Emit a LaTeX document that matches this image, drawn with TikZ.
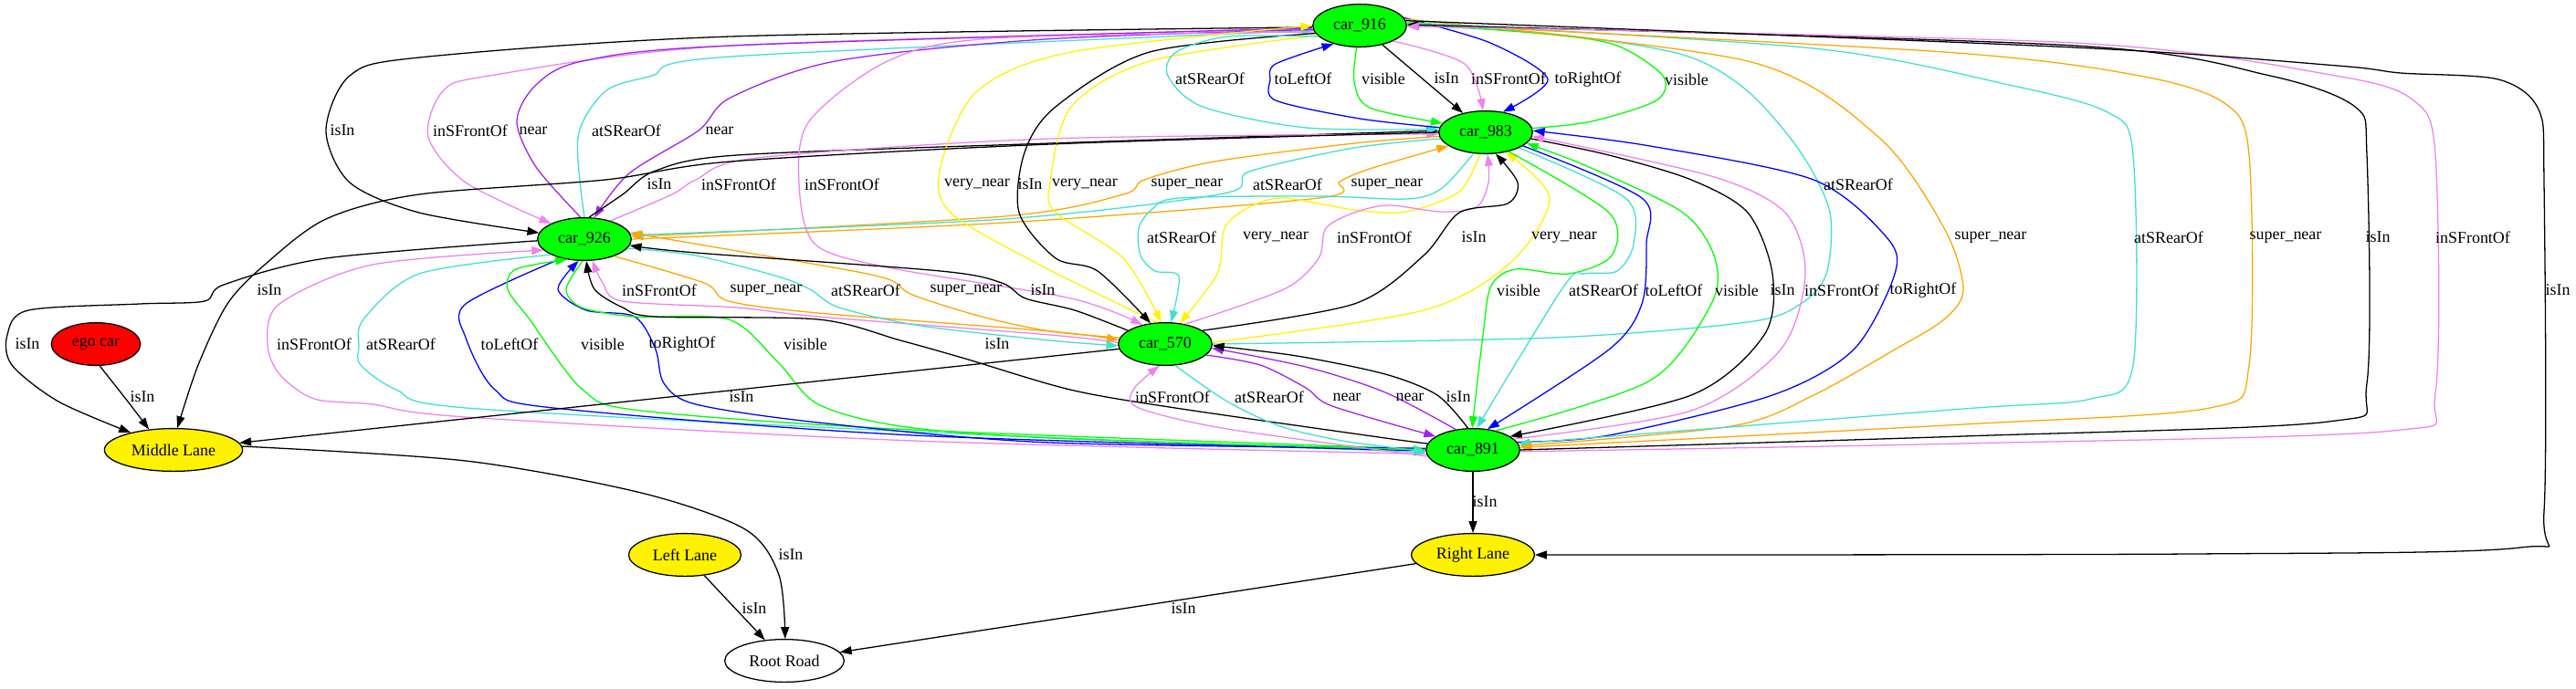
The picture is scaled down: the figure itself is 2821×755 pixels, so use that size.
\documentclass[tikz,border=0pt]{standalone}
\usepackage{fontspec}
\setmainfont{Liberation Serif}
\usetikzlibrary{shapes.geometric}
\usetikzlibrary{arrows.meta}

\definecolor{gvPurple}{HTML}{A020F0}
\definecolor{gvViolet}{HTML}{EE82EE}
\definecolor{gvTurq}{HTML}{40E0D0}
\definecolor{gvOrange}{HTML}{FFA500}

\tikzset{
    carnode/.style  = {ellipse, draw, line width = 1pt, fill = green, minimum width = 80pt, minimum height = 36.5pt, inner sep = 0pt},
    lanenode/.style = {ellipse, draw, line width = 1pt, fill = yellow, minimum height = 36.5pt, inner sep = 0pt},
    rel/.style      = {line width = 1pt, -{Triangle[length = 10pt, width = 7pt]}},
    lbl/.style      = {inner sep = 0pt},
}

\begin{document}
\begin{tikzpicture}[x = 0.78pt, y = -0.78pt, font = \fontsize{14}{16}\selectfont]

    \useasboundingbox (0,0) rectangle (2821,755);

    \node[carnode] (car916) at (1489,28)  {car\_916};
    \node[carnode] (car983) at (1627,145) {car\_983};
    \node[carnode] (car926) at (640,262)  {car\_926};
    \node[carnode] (car570) at (1276,377) {car\_570};
    \node[carnode] (car891) at (1613,493) {car\_891};

    \node[lanenode, fill = red, minimum width = 76pt] (egoCar) at (105,377) {ego car};
    \node[lanenode, minimum width = 118pt] (midLane)   at (190,493)  {Middle Lane};
    \node[lanenode, minimum width = 96pt]  (leftLane)  at (750,608)  {Left Lane};
    \node[lanenode, minimum width = 105pt] (rightLane) at (1613,608) {Right Lane};
    \node[lanenode, fill = white, minimum width = 102pt] (rootRoad) at (859,724) {Root Road};

    \draw[rel] plot[smooth] coordinates {(car916.182) (800,40) (459,63) (383,83) (357,143) (383,200) (459,233) (car926.172)};
    \draw[rel, gvViolet] plot[smooth] coordinates {(car916.184) (800,50) (536,83) (485,100) (469,150) (510,200) (car926.155)};
    \draw[rel, gvPurple] plot[smooth] coordinates {(car926.100) (587,183) (566,133) (587,93) (638,67) (800,50) (car916.183)};
    \draw[rel, gvTurq] plot[smooth] coordinates {(car926.90) (633,150) (663,100) (714,83) (800,62) (car916.186)};
    \draw[rel, gvPurple] plot[smooth] coordinates {(car916.185) (1144,43) (915,67) (800,107) (765,143) (689,190) (car926.65)};

    \draw[rel] plot[smooth] coordinates {(car926.78) (682,213) (718,187) (807,170) (1150,157) (car983.178)};
    \draw[rel, gvViolet] plot[smooth] coordinates {(car926.35) (736,213) (762,197) (829,173) (1150,152) (car983.182)};
    \draw[rel, gvOrange] plot[smooth] coordinates {(car983.185) (1483,157) (1330,177) (1253,197) (1230,213) (1100,237) (car926.3)};
    \draw[rel, gvTurq] plot[smooth] coordinates {(car983.188) (1483,162) (1368,188) (1340,212) (1100,240) (car926.5)};
    \draw[rel, gvOrange] plot[smooth] coordinates {(car926.0) (1100,244) (1444,217) (1467,199) (1500,185) (car983.200)};

    \draw[rel, gvViolet] plot[smooth] coordinates {(car916.188) (1087,42) (972,67) (886,133) (875,200) (892,267) (972,293) (1173,327) (car570.140)};
    \draw[rel, yellow] plot[smooth] coordinates {(car570.110) (1144,293) (1041,233) (1030,183) (1070,100) (1173,57) (car916.180)};
    \draw[rel] plot[smooth] coordinates {(car916.190) (1259,57) (1156,117) (1122,167) (1116,233) (1156,283) (1202,297) (car570.125)};
    \draw[rel, yellow] plot[smooth] coordinates {(car916.193) (1259,67) (1173,117) (1150,200) (1156,233) (1230,283) (car570.100)};
    \draw[rel, gvTurq] plot[smooth] coordinates {(car570.0) (1700,370) (1914,353) (1972,333) (2000,300) (2004,233) (1972,167) (1914,100) (1843,60) (1700,37) (car916.0)};

    \draw[rel, gvTurq] plot[smooth] coordinates {(car983.240) (1578,207) (1540,218) (1444,215) (1291,217) (1261,230) (1247,250) (1249,280) (1265,297) (1291,303) (car570.75)};
    \draw[rel, yellow] plot[smooth] coordinates {(car983.255) (1598,210) (1540,232) (1483,230) (1406,217) (1368,227) (1341,250) (1333,300) (car570.55)};
    \draw[rel, gvViolet] plot[smooth] coordinates {(car570.45) (1406,317) (1444,283) (1452,250) (1483,233) (1521,225) (1578,232) (1617,227) (1630,200) (car983.275)};
    \draw[rel] plot[smooth] coordinates {(car570.20) (1483,333) (1559,280) (1598,233) (1651,223) (1662,200) (car983.295)};
    \draw[rel, yellow] plot[smooth] coordinates {(car570.2) (1559,340) (1655,287) (1697,217) (car983.315)};

    \draw[rel, gvViolet] plot[smooth] coordinates {(car570.178) (1150,367) (896,347) (807,337) (682,330) (660,310) (car926.290)};
    \draw[rel, gvOrange] plot[smooth] coordinates {(car926.330) (771,310) (798,330) (896,343) (1150,363) (car570.175)};
    \draw[rel, gvTurq] plot[smooth] coordinates {(car926.348) (762,280) (852,303) (887,317) (919,337) (1008,357) (1150,373) (car570.182)};
    \draw[rel, gvOrange] plot[smooth] coordinates {(car570.172) (1150,363) (1075,347) (999,323) (963,303) (807,275) (car926.8)};
    \draw[rel] plot[smooth] coordinates {(car570.160) (1177,340) (1123,327) (1097,310) (1030,297) (762,277) (car926.352)};

    \draw[rel, gvTurq] plot[smooth] coordinates {(car916.195) (1345,40) (1288,57) (1279,83) (1317,117) (1431,140) (car983.176)};
    \draw[rel, blue] plot[smooth] coordinates {(car983.174) (1489,130) (1397,110) (1391,87) (1397,70) (car916.215)};
    \draw[rel, green] plot[smooth] coordinates {(car916.262) (1483,90) (1500,118) (car983.168)};
    \draw[rel] (car916) -- (car983);
    \draw[rel, gvViolet] plot[smooth] coordinates {(car916.335) (1604,70) (car983.97)};
    \draw[rel, blue] plot[smooth] coordinates {(car916.10) (1632,47) (1695,87) (car983.50)};
    \draw[rel, green] plot[smooth] coordinates {(car983.5) (1743,133) (1814,110) (1821,83) (1771,50) (1700,38) (car916.3)};

    \draw[rel, green] plot[smooth] coordinates {(car983.320) (1762,233) (1765,280) (1718,300) (1660,295) (1633,313) (1624,367) (car891.92)};
    \draw[rel, gvTurq] plot[smooth] coordinates {(car983.335) (1780,217) (1789,267) (1771,297) (1736,300) (1713,313) (car891.80)};
    \draw[rel, blue] plot[smooth] coordinates {(car983.340) (1798,217) (1803,267) (1798,333) (1762,383) (car891.55)};
    \draw[rel, green] plot[smooth] coordinates {(car891.40) (1807,417) (1874,333) (1878,283) (1843,233) (1740,183) (car983.345)};
    \draw[rel] plot[smooth] coordinates {(car983.352) (1762,170) (1852,197) (1914,233) (1941,300) (1932,367) (1852,433) (car891.20)};
    \draw[rel, gvViolet] plot[smooth] coordinates {(car891.15) (1852,450) (1950,383) (1977,300) (1955,233) (1874,193) (car983.355)};
    \draw[rel, blue] plot[smooth] coordinates {(car891.10) (1762,477) (1941,433) (2030,383) (2075,300) (2066,260) (1986,197) (1807,160) (car983.2)};

    \draw[rel, gvOrange] plot[smooth] coordinates {(car916.8) (1914,67) (2057,150) (2129,250) (2150,317) (2129,350) (2075,383) (1986,433) (1896,467) (car891.5)};
    \draw[rel, gvTurq] plot[smooth] coordinates {(car916.4) (1986,53) (2200,93) (2308,123) (2336,170) (2336,400) (2290,437) (2150,448) (car891.8)};
    \draw[rel, gvOrange] plot[smooth] coordinates {(car916.2) (2129,57) (2343,83) (2436,113) (2463,170) (2463,400) (2420,447) (2150,465) (car891.3)};
    \draw[rel] plot[smooth] coordinates {(car891.0) (2150,478) (2550,462) (2592,420) (2592,170) (2579,117) (2486,83) (2272,50) (car916.1)};
    \draw[rel, gvViolet] plot[smooth] coordinates {(car891.358) (2150,486) (2620,472) (2667,430) (2667,170) (2643,110) (2558,83) (2272,47) (car916.359)};

    \draw[rel, gvViolet] plot[smooth] coordinates {(car891.185) (1000,483) (510,457) (408,443) (344,437) (306,410) (293,377) (306,333) (408,290) (car926.195)};
    \draw[rel, gvTurq] plot[smooth] coordinates {(car926.205) (459,300) (398,350) (393,380) (395,400) (434,427) (510,447) (1000,473) (car891.183)};
    \draw[rel, blue] plot[smooth] coordinates {(car926.220) (510,333) (510,370) (542,427) (606,447) (1000,477) (car891.181)};
    \draw[rel, green] plot[smooth] coordinates {(car891.179) (1000,471) (702,450) (638,427) (580,350) (556,317) (565,295) (car926.230)};
    \draw[rel, blue] plot[smooth] coordinates {(car891.178) (1150,485) (896,463) (762,443) (727,420) (718,383) (695,347) (642,340) (611,317) (car926.255)};
    \draw[rel, green] plot[smooth] coordinates {(car926.265) (620,317) (637,337) (695,347) (798,350) (852,397) (896,443) (986,467) (1150,480) (car891.180)};
    \draw[rel] plot[smooth] coordinates {(car891.172) (1517,480) (1287,447) (1172,427) (1057,393) (986,373) (896,350) (718,347) (682,337) (651,317) (car926.275)};

    \draw[rel, gvViolet] plot[smooth] coordinates {(car891.188) (1344,470) (1247,447) (1241,427) (car570.255)};
    \draw[rel, gvTurq] plot[smooth] coordinates {(car570.295) (1344,440) (1402,467) (1470,483) (car891.182)};
    \draw[rel, gvPurple] plot[smooth] coordinates {(car570.345) (1380,400) (1430,425) (1459,445) (car891.160)};
    \draw[rel, gvPurple] plot[smooth] coordinates {(car891.130) (1517,430) (1430,402) (car570.355)};
    \draw[rel] plot[smooth] coordinates {(car891.103) (1574,433) (1517,410) (1420,390) (car570.358)};

    \draw[rel] plot[smooth] coordinates {(egoCar.280) (140,440) (midLane.140)};
    \draw[rel] plot[smooth] coordinates {(car926.182) (357,283) (245,312) (224,330) (153,333) (31,340) (8,367) (13,400) (64,440) (midLane.158)};
    \draw[rel] plot[smooth] coordinates {(car983.180) (1150,158) (800,177) (663,197) (459,213) (357,240) (290,290) (249,333) (217,400) (midLane.80)};
    \draw[rel] (car570) -- (midLane);
    \draw[rel] plot[smooth] coordinates {(midLane.3) (510,505) (702,540) (816,580) (853,630) (rootRoad.88)};
    \draw[rel] (leftLane) -- (rootRoad);
    \draw[rel] (rightLane) -- (rootRoad);
    \draw[rel] (car891) -- (rightLane);
    \draw[rel] plot[smooth] coordinates {(car916.6) (2272,52) (2560,72) (2629,80) (2736,87) (2780,120) (2786,200) (2786,560) (2760,600) (2400,607) (rightLane.0)};

    \foreach \X/\Y/\T [count=\i] in {
        375/143/isIn, 515/143/inSFrontOf, 584/143/near, 686/143/atSRearOf, 788/143/near,
        722/202/isIn, 809/202/inSFrontOf, 1300/202/super\_near, 1410/202/atSRearOf, 1519/202/super\_near,
        922/202/inSFrontOf, 1070/202/very\_near, 1128/202/isIn, 1188/202/very\_near, 2035/202/atSRearOf,
        1294/260/atSRearOf, 1397/260/very\_near, 1505/260/inSFrontOf, 1614/260/isIn, 1713/260/very\_near,
        722/318/inSFrontOf, 839/318/super\_near, 948/318/atSRearOf, 1058/318/super\_near, 1142/318/isIn,
        1325/86/atSRearOf, 1427/86/toLeftOf, 1515/86/visible, 1584/86/isIn, 1652/86/inSFrontOf, 1739/87/toRightOf, 1847/87/visible,
        1663/318/visible, 1756/318/atSRearOf, 1833/318/toLeftOf, 1902/318/visible, 1952/318/isIn, 2017/318/inSFrontOf, 2106/318/toRightOf,
        2180/260/super\_near, 2375/260/atSRearOf, 2503/260/super\_near, 2604/260/isIn, 2708/260/inSFrontOf,
        344/377/inSFrontOf, 439/377/atSRearOf, 558/377/toLeftOf, 660/377/visible, 747/377/toRightOf, 882/377/visible, 1092/377/isIn,
        1284/435/inSFrontOf, 1390/435/atSRearOf, 1475/435/near, 1544/435/near, 1597/435/isIn,
        156/435/isIn, 30/377/isIn, 295/318/isIn, 812/435/isIn, 866/608/isIn, 826/667/isIn, 1296/667/isIn, 1626/550/isIn, 2801/318/isIn}
        \node[lbl] (lab\i) at (\X,\Y) {\T};

\end{tikzpicture}
\end{document}
